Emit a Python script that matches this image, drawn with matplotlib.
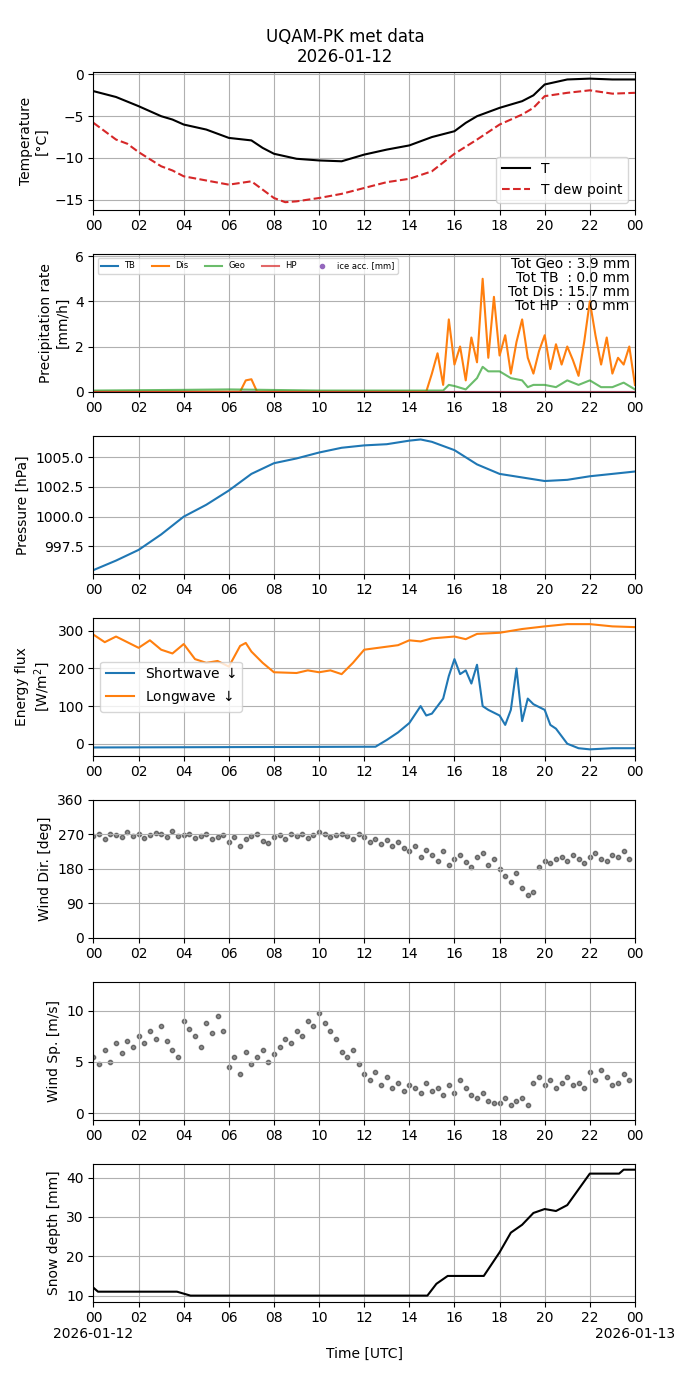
#!/usr/bin/env/python3

import datetime

import numpy as np
import matplotlib.pyplot as plt
import matplotlib.dates as mdates
import matplotlib.ticker as mticker

DAY = datetime.datetime(2026, 1, 12)

#Temperature and dew point, (hour, value)
TEMP = [(0, -2.0), (1, -2.7), (2, -3.8), (3, -5.0), (3.5, -5.4), (4, -6.0), (5, -6.6), (6, -7.6), (7, -7.9),
        (7.5, -8.8), (8, -9.5), (9, -10.1), (10, -10.3), (11, -10.4), (12, -9.6), (13, -9.0), (14, -8.5),
        (15, -7.5), (16, -6.8), (16.5, -5.8), (17, -5.0), (18, -4.0), (19, -3.2), (19.5, -2.5), (20, -1.2),
        (21, -0.6), (22, -0.5), (23, -0.6), (24, -0.6)]
DEWP = [(0, -5.8), (1, -7.8), (1.5, -8.3), (2, -9.3), (3, -11.0), (3.5, -11.5), (4, -12.2), (5, -12.7),
        (6, -13.2), (7, -12.8), (7.5, -13.8), (8, -14.8), (8.5, -15.3), (9, -15.2), (10, -14.8), (11, -14.3),
        (12, -13.6), (13, -12.9), (14, -12.5), (15, -11.6), (16, -9.5), (17, -7.8), (18, -6.0), (19, -4.8),
        (19.5, -4.0), (20, -2.6), (21, -2.2), (22, -1.9), (23, -2.3), (24, -2.2)]

#Precipitation rates [mm/h]
DIS = [(0, 0), (6.5, 0), (6.75, 0.5), (7, 0.55), (7.25, 0), (14.75, 0), (15, 0.8), (15.25, 1.7), (15.5, 0.3),
       (15.75, 3.2), (16, 1.2), (16.25, 2.0), (16.5, 0.5), (16.75, 2.4), (17, 1.3), (17.25, 5.0), (17.5, 1.5),
       (17.75, 4.2), (18, 1.6), (18.25, 2.5), (18.5, 0.8), (18.75, 2.2), (19, 3.2), (19.25, 1.5), (19.5, 0.8),
       (19.75, 1.8), (20, 2.5), (20.25, 1.0), (20.5, 2.1), (20.75, 1.2), (21, 2.0), (21.25, 1.4), (21.5, 0.7),
       (21.75, 2.2), (22, 4.0), (22.25, 2.5), (22.5, 1.2), (22.75, 2.4), (23, 0.8), (23.25, 1.5), (23.5, 1.2),
       (23.75, 2.0), (24, 0.3)]
GEO = [(0, 0.05), (4, 0.08), (6, 0.1), (10, 0.05), (15.5, 0.05), (15.75, 0.3), (16, 0.25), (16.5, 0.1),
       (17, 0.6), (17.25, 1.1), (17.5, 0.9), (18, 0.9), (18.5, 0.6), (19, 0.5), (19.25, 0.2), (19.5, 0.3),
       (20, 0.3), (20.5, 0.2), (21, 0.5), (21.5, 0.3), (22, 0.5), (22.5, 0.2), (23, 0.2), (23.5, 0.4), (24, 0.1)]

PRES = [(0, 995.5), (1, 996.3), (2, 997.2), (3, 998.5), (4, 1000.0), (5, 1001.0), (6, 1002.2), (7, 1003.6),
        (8, 1004.5), (9, 1004.9), (10, 1005.4), (11, 1005.8), (12, 1006.0), (13, 1006.1), (14, 1006.4),
        (14.5, 1006.5), (15, 1006.3), (16, 1005.6), (17, 1004.4), (18, 1003.6), (19, 1003.3), (20, 1003.0),
        (21, 1003.1), (22, 1003.4), (23, 1003.6), (24, 1003.8)]

SW = [(0, -10), (12.5, -8), (13, 10), (13.5, 30), (14, 55), (14.5, 100), (14.75, 75), (15, 80), (15.5, 120),
      (15.75, 180), (16, 225), (16.25, 185), (16.5, 195), (16.75, 160), (17, 210), (17.25, 100), (17.5, 90),
      (18, 75), (18.25, 50), (18.5, 90), (18.75, 200), (19, 60), (19.25, 120), (19.5, 105), (20, 90),
      (20.25, 50), (20.5, 40), (21, 0), (21.5, -12), (22, -15), (23, -12), (24, -12)]
LW = [(0, 290), (0.5, 270), (1, 285), (1.5, 270), (2, 255), (2.5, 275), (3, 250), (3.5, 240), (4, 265),
      (4.5, 225), (5, 215), (5.5, 220), (6, 205), (6.5, 260), (6.75, 268), (7, 245), (7.5, 215), (8, 190),
      (9, 188), (9.5, 195), (10, 190), (10.5, 195), (11, 185), (11.5, 215), (12, 250), (13, 258), (13.5, 262),
      (14, 275), (14.5, 272), (15, 280), (16, 285), (16.5, 278), (17, 292), (18, 295), (19, 305), (20, 312),
      (21, 318), (22, 318), (23, 312), (24, 310)]

#Wind every 15 minutes from 00 UTC
WDIR = [265, 270, 258, 272, 268, 262, 275, 266, 270, 260, 268, 274,
        270, 262, 278, 265, 268, 272, 260, 266, 270, 258, 264, 268,
        250, 262, 240, 258, 265, 270, 252, 248, 262, 268, 258, 270,
        265, 272, 260, 268, 275, 270, 262, 268, 272, 265, 258, 270,
        262, 250, 258, 245, 255, 240, 250, 235, 225, 240, 210, 230,
        215, 200, 225, 190, 205, 215, 198, 185, 210, 220, 190, 205,
        180, 160, 145, 170, 130, 110, 120, 185, 200, 195, 205, 210,
        200, 215, 205, 195, 210, 220, 205, 200, 215, 210, 225, 205]
WSPD = [5.5, 4.8, 6.2, 5.0, 6.8, 5.9, 7.0, 6.5, 7.5, 6.8, 8.0, 7.2,
        8.5, 7.0, 6.2, 5.5, 9.0, 8.2, 7.5, 6.5, 8.8, 7.8, 9.5, 8.0,
        4.5, 5.5, 3.8, 6.0, 4.8, 5.5, 6.2, 5.0, 5.8, 6.5, 7.2, 6.8,
        8.0, 7.5, 9.0, 8.5, 9.8, 8.8, 8.0, 7.2, 6.0, 5.5, 6.2, 4.8,
        3.8, 3.2, 4.0, 2.8, 3.5, 2.5, 3.0, 2.2, 2.8, 2.5, 2.0, 3.0,
        2.2, 2.5, 1.8, 2.8, 2.0, 3.2, 2.5, 1.8, 1.5, 2.0, 1.2, 1.0,
        1.0, 1.5, 0.8, 1.2, 1.5, 0.8, 3.0, 3.5, 2.8, 3.2, 2.5, 3.0,
        3.5, 2.8, 3.0, 2.5, 4.0, 3.2, 4.2, 3.5, 2.8, 3.0, 3.8, 3.2]

SNOW = [(0, 12), (0.2, 11), (3.7, 11), (4, 10.5), (4.3, 10), (14.8, 10), (15.2, 13), (15.7, 15), (17.3, 15),
        (18, 21), (18.5, 26), (19, 28), (19.5, 31), (20, 32), (20.5, 31.5), (21, 33), (21.5, 37), (22, 41),
        (23.3, 41), (23.5, 42), (24, 42)]


def to_times(hours):
    return np.array([DAY + datetime.timedelta(hours=h) for h in hours])

def split(pairs):
    hours, vals = zip(*pairs)
    return to_times(hours), np.array(vals)

def hour_with_date(x, pos=None):
    t = mdates.num2date(x)
    if t.hour == 0:
        return t.strftime("%H\n%Y-%m-%d")
    return t.strftime("%H")

def main():
    fig, axes = plt.subplots(7, 1, figsize=(6.9, 13.76))
    fig.suptitle("UQAM-PK met data\n2026-01-12")

    ax = axes[0]
    ax.plot(*split(TEMP), "k-", label="T")
    ax.plot(*split(DEWP), "--", color="tab:red", label="T dew point")
    ax.set_ylim(-16.2, 0.3)
    ax.set_ylabel("Temperature\n[°C]")
    ax.legend(loc="lower right")

    ax = axes[1]
    zero = [(0, 0), (24, 0)]
    ax.plot(*split(zero), label="TB")
    ax.plot(*split(DIS), label="Dis")
    ax.plot(*split(GEO), color="tab:green", alpha=0.7, label="Geo")
    ax.plot(*split(zero), color="tab:red", alpha=0.7, label="HP")
    ax.plot([], [], "o", color="tab:purple", markersize=3, label="ice acc. [mm]")
    ax.set_ylim(0, 6.1)
    ax.set_ylabel("Precipitation rate\n[mm/h]")
    ax.legend(loc="upper left", ncol=5, fontsize=6)
    ax.text(0.99, 0.98, "Tot Geo : 3.9 mm\nTot TB  : 0.0 mm\nTot Dis : 15.7 mm\nTot HP  : 0.0 mm",
            transform=ax.transAxes, ha="right", va="top", linespacing=1.0)

    ax = axes[2]
    ax.plot(*split(PRES))
    ax.set_ylim(995.2, 1006.8)
    ax.set_yticks([997.5, 1000.0, 1002.5, 1005.0])
    ax.yaxis.set_major_formatter(mticker.FormatStrFormatter("%.1f"))
    ax.set_ylabel("Pressure [hPa]")

    ax = axes[3]
    ax.plot(*split(SW), label="Shortwave $\\downarrow$")
    ax.plot(*split(LW), label="Longwave $\\downarrow$")
    ax.set_ylabel("Energy flux\n[W/m$^2$]")
    ax.legend(loc="center left")

    wind_t = to_times(np.arange(len(WDIR)) * 0.25)
    ax = axes[4]
    ax.scatter(wind_t, WDIR, s=10, color="k", alpha=0.45)
    ax.set_ylim(0, 360)
    ax.set_yticks([0, 90, 180, 270, 360])
    ax.set_ylabel("Wind Dir. [deg]")

    ax = axes[5]
    ax.scatter(wind_t, WSPD, s=10, color="k", alpha=0.45)
    ax.set_ylim(-0.6, 12.8)
    ax.set_ylabel("Wind Sp. [m/s]")

    ax = axes[6]
    ax.plot(*split(SNOW), "k-")
    ax.set_ylim(8.5, 43.5)
    ax.set_ylabel("Snow depth [mm]")
    ax.set_xlabel("Time [UTC]")

    for ax in axes:
        ax.set_xlim(DAY, DAY + datetime.timedelta(days=1))
        ax.xaxis.set_major_locator(mdates.HourLocator(interval=2))
        ax.xaxis.set_major_formatter(mdates.DateFormatter("%H"))
        ax.grid()
    axes[-1].xaxis.set_major_formatter(mticker.FuncFormatter(hour_with_date))

    fig.tight_layout()
    plt.savefig("out.png", dpi=100)

if __name__ == "__main__":
    main()
